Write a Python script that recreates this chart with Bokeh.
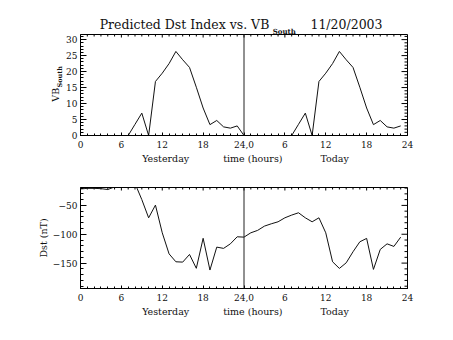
from bokeh.plotting import figure
from bokeh.models import LinearAxis, FixedTicker, Range1d, Span
from bokeh.layouts import column
from bokeh.embed import file_html
from bokeh.resources import INLINE

# ---------------- data ----------------
hours = list(range(48))
vb_south = [0, 0, 0, 0, 0, 0, 0, 0, 3.5, 7.0, 0, 16.9, 19.5, 22.5, 26.3, 23.7,
            21.3, 15.1, 8.6, 3.4, 4.7, 2.7, 2.3, 3.0,
            0, 0, 0, 0, 0, 0, 0, 0, 3.5, 7.0, 0, 16.9, 19.5, 22.5, 26.3, 23.7,
            21.3, 15.1, 8.6, 3.4, 4.7, 2.7, 2.3, 3.0]
dst = [-21.5, -20.5, -20.5, -21, -22.5, -18, -10, -10, -12, -40, -71.5, -49.5,
       -97.5, -134, -147.7, -148.3, -135, -159, -107, -162, -122.3, -124.5, -116.6, -104.4,
       -105, -97.5, -93.3, -85.9, -81.9, -78.4, -71.5, -66.8, -62.8, -71.5, -78.4, -71.5,
       -97.5, -147.7, -159.2, -149.5, -130.4, -113.1, -107.2, -160.9, -126.3, -116.6, -121.1, -105]
divider_hour = 24
x_tick_values = [0, 6, 12, 18, 24, 30, 36, 42, 48]
x_tick_labels = ["0", "6", "12", "18", "24,0", "6", "12", "18", "24"]
x_minor = list(range(0, 49))
day_labels = ["Yesterday", "time (hours)", "Today"]
day_label_hours = [12.5, 25.3, 37.3]
vb_ticks = [0, 5, 10, 15, 20, 25, 30]
vb_minor = list(range(0, 32))
dst_ticks = [-150, -100, -50]
dst_minor = list(range(-190, -19, 10))
vb_range = (0, 31.6)
dst_range = (-194, -19)
title_main = "Predicted Dst Index vs. VB"
title_sub = "South"
title_date = "11/20/2003"
vb_label_main = "VB"
vb_label_sub = "South"
dst_label = "Dst (nT)"

FONT = "DejaVu Serif"
TXT = "#111111"
W = 453
FRAME_L = 80
FRAME_W = 327
FRAME_H = 101
PX_PER_HOUR = FRAME_W / 48.0


def hx(px):
    return (px - FRAME_L) / PX_PER_HOUR


def style_axis(ax, tin, minin):
    ax.axis_line_color = "black"
    ax.axis_line_width = 1
    ax.major_tick_line_color = "black"
    ax.minor_tick_line_color = "black"
    ax.major_tick_in = tin
    ax.major_tick_out = 0
    ax.minor_tick_in = minin
    ax.minor_tick_out = 0
    ax.major_label_text_font = FONT
    ax.major_label_text_font_size = "9px"
    ax.major_label_text_color = TXT


def text_axis(ticks, labels, size, standoff, bold=False, vertical=False):
    ax = LinearAxis(ticker=FixedTicker(ticks=ticks, minor_ticks=[]))
    ax.axis_line_color = None
    ax.major_tick_line_color = None
    ax.minor_tick_line_color = None
    ax.major_tick_in = 0
    ax.major_tick_out = 0
    ax.major_label_standoff = standoff
    ax.major_label_overrides = {t: l for t, l in zip(ticks, labels)}
    ax.major_label_text_font = FONT
    ax.major_label_text_font_size = size
    ax.major_label_text_color = TXT
    if bold:
        ax.major_label_text_font_style = "bold"
    if vertical:
        ax.major_label_orientation = "vertical"
    return ax


def make_fig(height, top, yr, yticks, yminor):
    p = figure(width=W, height=height, x_range=Range1d(0, 48), y_range=Range1d(*yr),
               output_backend="svg", toolbar_location=None,
               min_border_left=FRAME_L, min_border_right=W - FRAME_L - FRAME_W,
               min_border_top=top, min_border_bottom=height - top - FRAME_H)
    p.grid.visible = False
    p.outline_line_color = "black"
    p.outline_line_width = 1
    p.background_fill_color = "white"
    p.border_fill_color = "white"
    p.xaxis.ticker = FixedTicker(ticks=x_tick_values, minor_ticks=x_minor)
    p.yaxis.ticker = FixedTicker(ticks=yticks, minor_ticks=yminor)
    style_axis(p.xaxis[0], 3, 2)
    style_axis(p.yaxis[0], 6, 3)
    p.xaxis[0].major_label_overrides = {v: l for v, l in zip(x_tick_values, x_tick_labels)}
    p.xaxis[0].major_label_standoff = 5
    p.yaxis[0].major_label_standoff = 3
    # second row of x labels
    p.add_layout(text_axis(day_label_hours, day_labels, "9.5px", 2), "below")
    ppu = FRAME_H / (yr[1] - yr[0])
    # inward ticks on the top and right edges (box style)
    ymax = yr[1]
    maj_x = x_tick_values
    min_x = [v for v in x_minor if v not in x_tick_values]
    p.segment(x0=maj_x, y0=[ymax] * len(maj_x), x1=maj_x, y1=[ymax - 3 / ppu] * len(maj_x),
              line_color="black", line_width=1)
    p.segment(x0=min_x, y0=[ymax] * len(min_x), x1=min_x, y1=[ymax - 2 / ppu] * len(min_x),
              line_color="black", line_width=1)
    min_y = [v for v in yminor if v not in yticks]
    p.segment(x0=[48] * len(yticks), y0=yticks, x1=[48 - 6 / PX_PER_HOUR] * len(yticks), y1=yticks,
              line_color="black", line_width=1)
    p.segment(x0=[48] * len(min_y), y0=min_y, x1=[48 - 3 / PX_PER_HOUR] * len(min_y), y1=min_y,
              line_color="black", line_width=1)
    p.add_layout(Span(location=divider_hour, dimension="height", line_color="#222222", line_width=1))
    return p, ppu


# ---- top panel ----
p1, ppu1 = make_fig(170, 34, vb_range, vb_ticks, vb_minor)
p1.line(hours, vb_south, line_color=TXT, line_width=1)
# title: subscript row closest to the frame, main title row above it
p1.add_layout(text_axis([hx(283.8)], [title_sub], "7px", -1, bold=True), "above")
p1.add_layout(text_axis([hx(184), hx(346)], [title_main, title_date], "12.5px", -8), "above")
# y-axis title VB_South
p1.add_layout(text_axis([(134.7 - 76) / ppu1], [vb_label_sub], "6.5px", -1, bold=True, vertical=True), "left")
p1.add_layout(text_axis([(134.7 - 94) / ppu1], [vb_label_main], "9.5px", -8, vertical=True), "left")

# ---- bottom panel ----
p2, ppu2 = make_fig(170, 17, dst_range, dst_ticks, dst_minor)
p2.line(hours, dst, line_color=TXT, line_width=1)
p2.yaxis[0].axis_label = dst_label
p2.yaxis[0].axis_label_text_font = FONT
p2.yaxis[0].axis_label_text_font_size = "9.5px"
p2.yaxis[0].axis_label_text_font_style = "normal"
p2.yaxis[0].axis_label_text_color = TXT
p2.yaxis[0].axis_label_standoff = 1

layout = column(p1, p2, spacing=0)
open("out.html", "w").write(file_html(layout, INLINE))
